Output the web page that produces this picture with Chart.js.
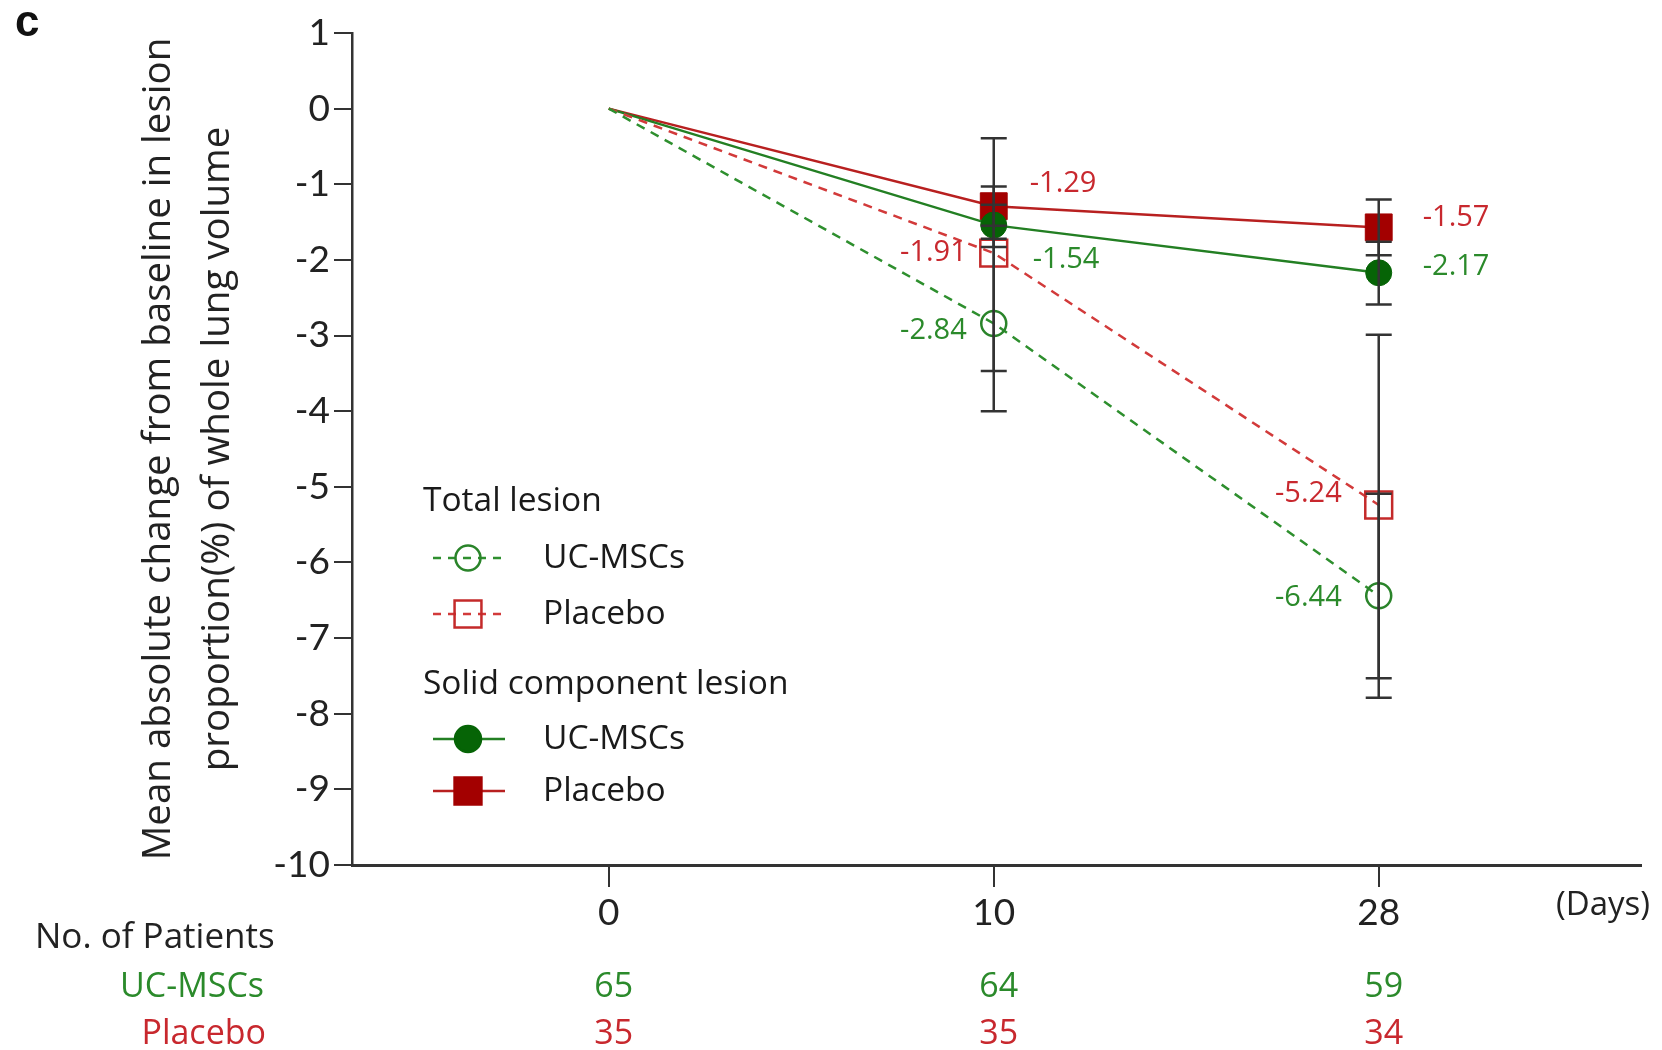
<!DOCTYPE html>
<html>
<head>
<meta charset="utf-8">
<script src="https://cdn.jsdelivr.net/npm/chart.js@4/dist/chart.umd.min.js"></script>
<style>
  html, body { margin: 0; padding: 0; background: #fff; }
  #wrap { width: 1662px; height: 1050px; position: relative; }
</style>
</head>
<body>
<div id="wrap"><canvas id="chart"></canvas></div>
<script>
// ── Data ──
// visits (days); plotted at evenly spaced slots 0, 1, 2
const dayLabels = ['0', '10', '28'];

// mean absolute change from baseline (%)
const totalUC      = [0, -2.84, -6.44];
const totalPlacebo = [0, -1.91, -5.24];
const solidUC      = [0, -1.54, -2.17];
const solidPlacebo = [0, -1.29, -1.57];

// error bar ends (no bar at baseline)
const totalUCLow       = [null, -4.00, -7.79];
const totalUCHigh      = [null, -1.72, -5.09];
const totalPlaceboLow  = [null, -3.47, -7.53];
const totalPlaceboHigh = [null, -0.39, -2.99];
const solidUCLow       = [null, -1.83, -2.59];
const solidUCHigh      = [null, -1.27, -1.76];
const solidPlaceboLow  = [null, -1.55, -1.94];
const solidPlaceboHigh = [null, -1.03, -1.20];

// patients at each visit
const patientsUC      = [65, 64, 59];
const patientsPlacebo = [35, 35, 34];

const TICK_FONT = 'Lato, "Open Sans", sans-serif';
const FONT = '"Open Sans", Lato, sans-serif';
const GREEN_TXT = '#2b8a2b';
const RED_TXT = '#c8282e';

const toPoints = arr => arr.map((y, i) => ({ x: i, y }));

// ── Datasets ──
// labelOffsets: where each value label sits relative to its point [dx, dy, align]
const datasets = [
  {
    label: 'UC-MSCs', group: 'Total lesion',
    data: toPoints(totalUC), low: totalUCLow, high: totalUCHigh,
    borderColor: '#2e8f2e', borderWidth: 2.5, borderDash: [9, 7],
    pointStyle: 'circle', pointRadius: [0, 12.5, 12.5],
    pointBorderColor: '#2a842a', pointBackgroundColor: 'rgba(0,0,0,0)', pointBorderWidth: 2.5,
    textColor: GREEN_TXT,
    labelOffsets: [null, [-27, 7, 'right'], [-37, 2, 'right']]
  },
  {
    label: 'Placebo', group: 'Total lesion',
    data: toPoints(totalPlacebo), low: totalPlaceboLow, high: totalPlaceboHigh,
    borderColor: '#d23a3a', borderWidth: 2.5, borderDash: [9, 7],
    pointStyle: 'rect', pointRadius: [0, 19, 19],
    pointBorderColor: '#c42a2a', pointBackgroundColor: 'rgba(0,0,0,0)', pointBorderWidth: 2.5,
    textColor: RED_TXT,
    labelOffsets: [null, [-27, 0, 'right'], [-37, -11, 'right']]
  },
  {
    label: 'UC-MSCs', group: 'Solid component lesion',
    data: toPoints(solidUC), low: solidUCLow, high: solidUCHigh,
    borderColor: '#237f23', borderWidth: 2.5,
    pointStyle: 'circle', pointRadius: [0, 13, 13],
    pointBorderColor: '#066406', pointBackgroundColor: '#066406', pointBorderWidth: 1,
    textColor: GREEN_TXT,
    labelOffsets: [null, [39, 35, 'left'], [44, -6, 'left']]
  },
  {
    label: 'Placebo', group: 'Solid component lesion',
    data: toPoints(solidPlacebo), low: solidPlaceboLow, high: solidPlaceboHigh,
    borderColor: '#b82020', borderWidth: 2.5,
    pointStyle: 'rect', pointRadius: [0, 19, 19],
    pointBorderColor: '#a30000', pointBackgroundColor: '#a30000', pointBorderWidth: 1,
    textColor: RED_TXT,
    labelOffsets: [null, [36, -22, 'left'], [44, -10, 'left']]
  }
];

// ── Error bars: drawn over the markers ──
const errorBars = {
  id: 'errorBars',
  afterDatasetsDraw(chart) {
    const { ctx, scales: { x, y } } = chart;
    ctx.save();
    ctx.strokeStyle = '#333';
    ctx.lineWidth = 2.5;
    chart.data.datasets.forEach(ds => {
      ds.data.forEach((p, i) => {
        if (ds.low[i] == null) return;
        const px = x.getPixelForValue(p.x);
        const yl = y.getPixelForValue(ds.low[i]);
        const yh = y.getPixelForValue(ds.high[i]);
        ctx.beginPath();
        ctx.moveTo(px, yl); ctx.lineTo(px, yh);
        ctx.moveTo(px - 13, yl); ctx.lineTo(px + 13, yl);
        ctx.moveTo(px - 13, yh); ctx.lineTo(px + 13, yh);
        ctx.stroke();
      });
    });
    ctx.restore();
  }
};

// ── Value labels beside each marker ──
const valueLabels = {
  id: 'valueLabels',
  afterDatasetsDraw(chart) {
    const { ctx, scales: { x, y } } = chart;
    ctx.save();
    ctx.font = `29px ${FONT}`;
    ctx.textBaseline = 'middle';
    chart.data.datasets.forEach(ds => {
      ds.data.forEach((p, i) => {
        const off = ds.labelOffsets[i];
        if (!off) return;
        ctx.fillStyle = ds.textColor;
        ctx.textAlign = off[2];
        ctx.fillText(p.y.toFixed(2), x.getPixelForValue(p.x) + off[0], y.getPixelForValue(p.y) + off[1]);
      });
    });
    ctx.restore();
  }
};

// ── Legend, panel letter and patient table ──
const extras = {
  id: 'extras',
  afterDraw(chart) {
    const { ctx, scales: { x } } = chart;
    ctx.save();

    // panel letter
    ctx.fillStyle = '#111';
    ctx.font = 'bold 44px "Liberation Sans", Arial, sans-serif';
    ctx.textBaseline = 'middle';
    ctx.textAlign = 'left';
    ctx.fillText('c', 15, 24);

    // legend: group headings, then a line + marker sample per dataset
    const legendRows = [
      { head: 'Total lesion', y: 501 },
      { ds: 0, y: 558 },
      { ds: 1, y: 614 },
      { head: 'Solid component lesion', y: 684 },
      { ds: 2, y: 739 },
      { ds: 3, y: 791 }
    ];
    legendRows.forEach(row => {
      ctx.font = `33.5px ${FONT}`;
      ctx.fillStyle = '#1a1a1a';
      if (row.head) {
        ctx.fillText(row.head, 423, row.y);
        return;
      }
      const ds = chart.data.datasets[row.ds];
      ctx.save();
      ctx.strokeStyle = ds.borderColor;
      ctx.lineWidth = ds.borderWidth;
      ctx.setLineDash(ds.borderDash ? [8, 7] : []);
      ctx.beginPath();
      ctx.moveTo(433, row.y); ctx.lineTo(505, row.y);
      ctx.stroke();
      ctx.setLineDash([]);
      ctx.fillStyle = ds.pointBackgroundColor;
      ctx.strokeStyle = ds.pointBorderColor;
      Chart.helpers.drawPoint(ctx, {
        pointStyle: ds.pointStyle, radius: ds.pointRadius[1],
        borderWidth: ds.pointBorderWidth, rotation: 0
      }, 468, row.y);
      ctx.restore();
      ctx.fillStyle = '#1a1a1a';
      ctx.fillText(ds.label, 543, row.y);
    });

    // axis unit
    ctx.font = `33px ${FONT}`;
    ctx.fillStyle = '#222';
    ctx.fillText('(Days)', 1556, 906);

    // number of patients table
    ctx.font = `35px ${FONT}`;
    ctx.fillStyle = '#222';
    ctx.fillText('No. of Patients', 35, 938);
    ctx.font = `34px ${FONT}`;
    ctx.textAlign = 'right';
    ctx.fillStyle = GREEN_TXT;
    ctx.fillText('UC-MSCs', 264, 987);
    ctx.fillStyle = RED_TXT;
    ctx.fillText('Placebo', 266, 1034);
    ctx.textAlign = 'center';
    dayLabels.forEach((_, i) => {
      const px = x.getPixelForValue(i) + 5;
      ctx.fillStyle = GREEN_TXT;
      ctx.fillText(String(patientsUC[i]), px, 987);
      ctx.fillStyle = RED_TXT;
      ctx.fillText(String(patientsPlacebo[i]), px, 1034);
    });
    ctx.restore();
  }
};

new Chart(document.getElementById('chart'), {
  type: 'line',
  data: { datasets },
  plugins: [errorBars, valueLabels, extras],
  options: {
    responsive: true,
    maintainAspectRatio: false,
    animation: false,
    layout: { padding: { top: 33, right: 21, left: 0, bottom: 0 } },
    plugins: { legend: { display: false }, tooltip: { enabled: false } },
    elements: { line: { tension: 0 } },
    scales: {
      x: {
        type: 'linear',
        min: -0.667,
        max: 2.68,
        afterBuildTicks: sc => { sc.ticks = dayLabels.map((_, i) => ({ value: i })); },
        afterFit: sc => { sc.height = 185; },
        ticks: {
          callback: v => dayLabels[v],
          font: { family: TICK_FONT, size: 37 },
          color: '#222',
          padding: 4,
          maxRotation: 0
        },
        grid: { display: true, drawOnChartArea: false, drawTicks: true, tickLength: 22, color: '#333', lineWidth: 2 },
        border: { display: true, color: '#333', width: 3 }
      },
      y: {
        min: -10,
        max: 1,
        afterFit: sc => { sc.width = 352; },
        ticks: {
          stepSize: 1,
          callback: v => String(v),
          font: { family: TICK_FONT, size: 37 },
          color: '#222',
          padding: 4
        },
        grid: { display: true, drawOnChartArea: false, drawTicks: true, tickLength: 18, color: '#333', lineWidth: 2 },
        border: { display: true, color: '#333', width: 2.5 },
        title: {
          display: true,
          text: ['Mean absolute change from baseline in lesion', 'proportion(%) of whole lung volume'],
          font: { family: FONT, size: 38.5, lineHeight: 1.55 },
          color: '#222',
          padding: { top: 129, bottom: 0 }
        }
      }
    }
  }
});
</script>
</body>
</html>
